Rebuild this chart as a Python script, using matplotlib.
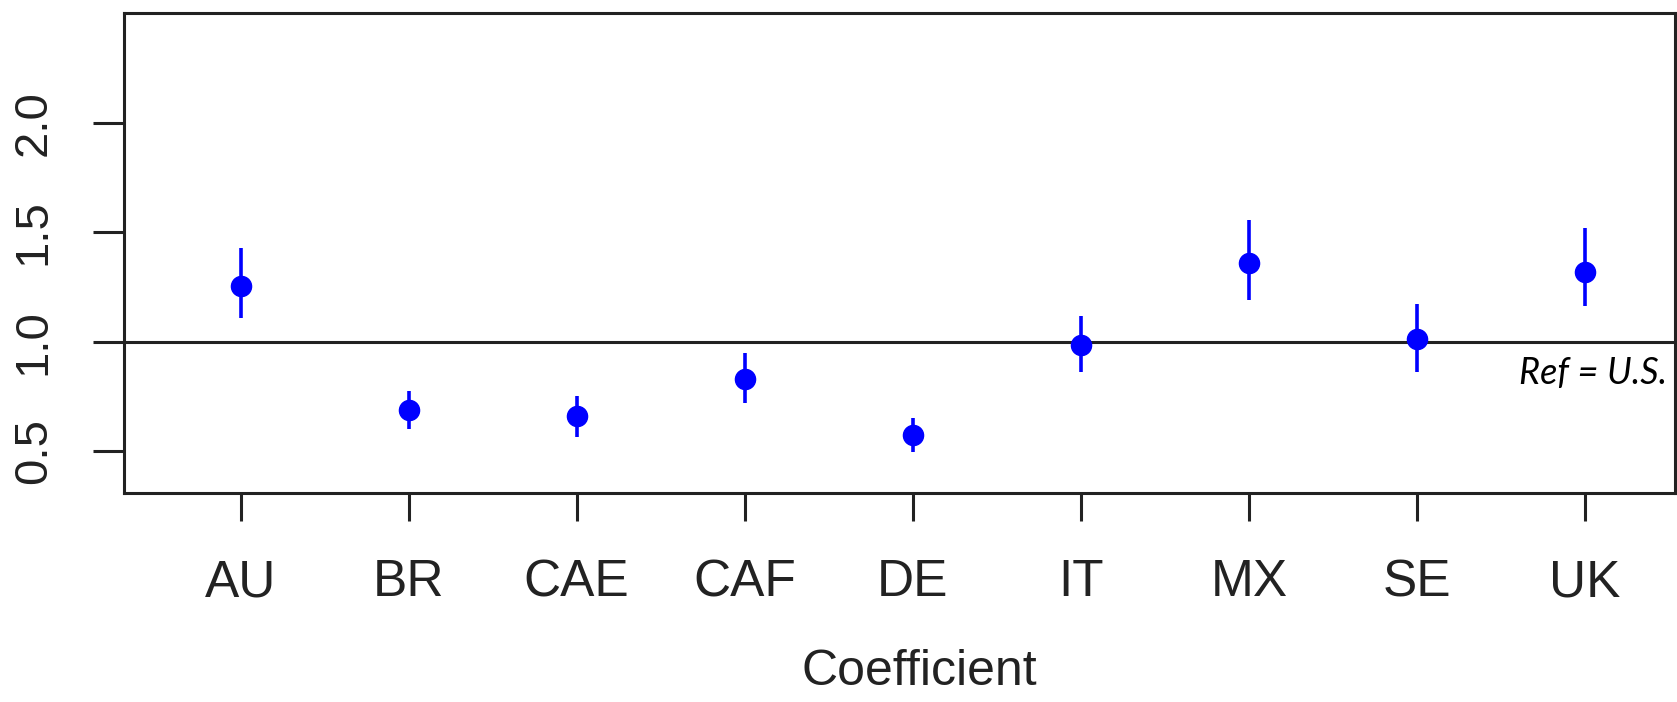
import matplotlib
matplotlib.use('Agg')
import matplotlib.pyplot as plt
import numpy as np

countries = ['AU', 'BR', 'CAE', 'CAF', 'DE', 'IT', 'MX', 'SE', 'UK']
estimate = [1.254, 0.687, 0.658, 0.829, 0.575, 0.985, 1.360, 1.010, 1.320]
ci_low = [1.107, 0.600, 0.565, 0.720, 0.497, 0.863, 1.190, 0.863, 1.161]
ci_high = [1.430, 0.775, 0.750, 0.950, 0.653, 1.117, 1.557, 1.170, 1.518]
y_ticks = [0.5, 1.0, 1.5, 2.0]

plt.rcParams['font.family'] = ['Liberation Sans', 'DejaVu Sans']

fig = plt.figure(figsize=(16.77, 7.02), dpi=100)
ax = fig.add_axes([0.0739, 0.2977, 0.9249, 0.6838])

x = np.arange(len(countries))
est = np.array(estimate)
lo = est - np.array(ci_low)
hi = np.array(ci_high) - est

# reference line for the U.S. baseline
ax.axhline(1.0, color='#222222', lw=2.2, zorder=1)
ax.errorbar(x, est, yerr=[lo, hi], fmt='o', color='#0000ff', ecolor='#0000ff',
            elinewidth=2.6, markersize=14.5, capsize=0, zorder=3)

ax.set_xlim(-0.694, 8.536)
ax.set_ylim(0.308, 2.502)
ax.set_xticks(x)
ax.set_xticklabels(countries, fontsize=37, color='#222222')
ax.set_yticks(y_ticks)
ax.set_yticklabels([f'{v:.1f}' for v in y_ticks], fontsize=34, rotation=90,
                   va='center', color='#222222')
ax.tick_params(axis='x', length=20, width=2.2, pad=27, color='#222222')
ax.tick_params(axis='y', length=22, width=2.2, pad=27, color='#222222')
for sp in ax.spines.values():
    sp.set_linewidth(2.2)
    sp.set_color('#222222')

ax.set_xlabel('Coefficient', fontsize=36, color='#222222')
ax.xaxis.set_label_coords(0.513, -0.325)

ax.text(8.49, 0.855, 'Ref = U.S.', fontsize=26, style='italic',
        family=['Lato', 'DejaVu Sans'], ha='right', va='center', color='black')

fig.savefig('out.png', dpi=100)
